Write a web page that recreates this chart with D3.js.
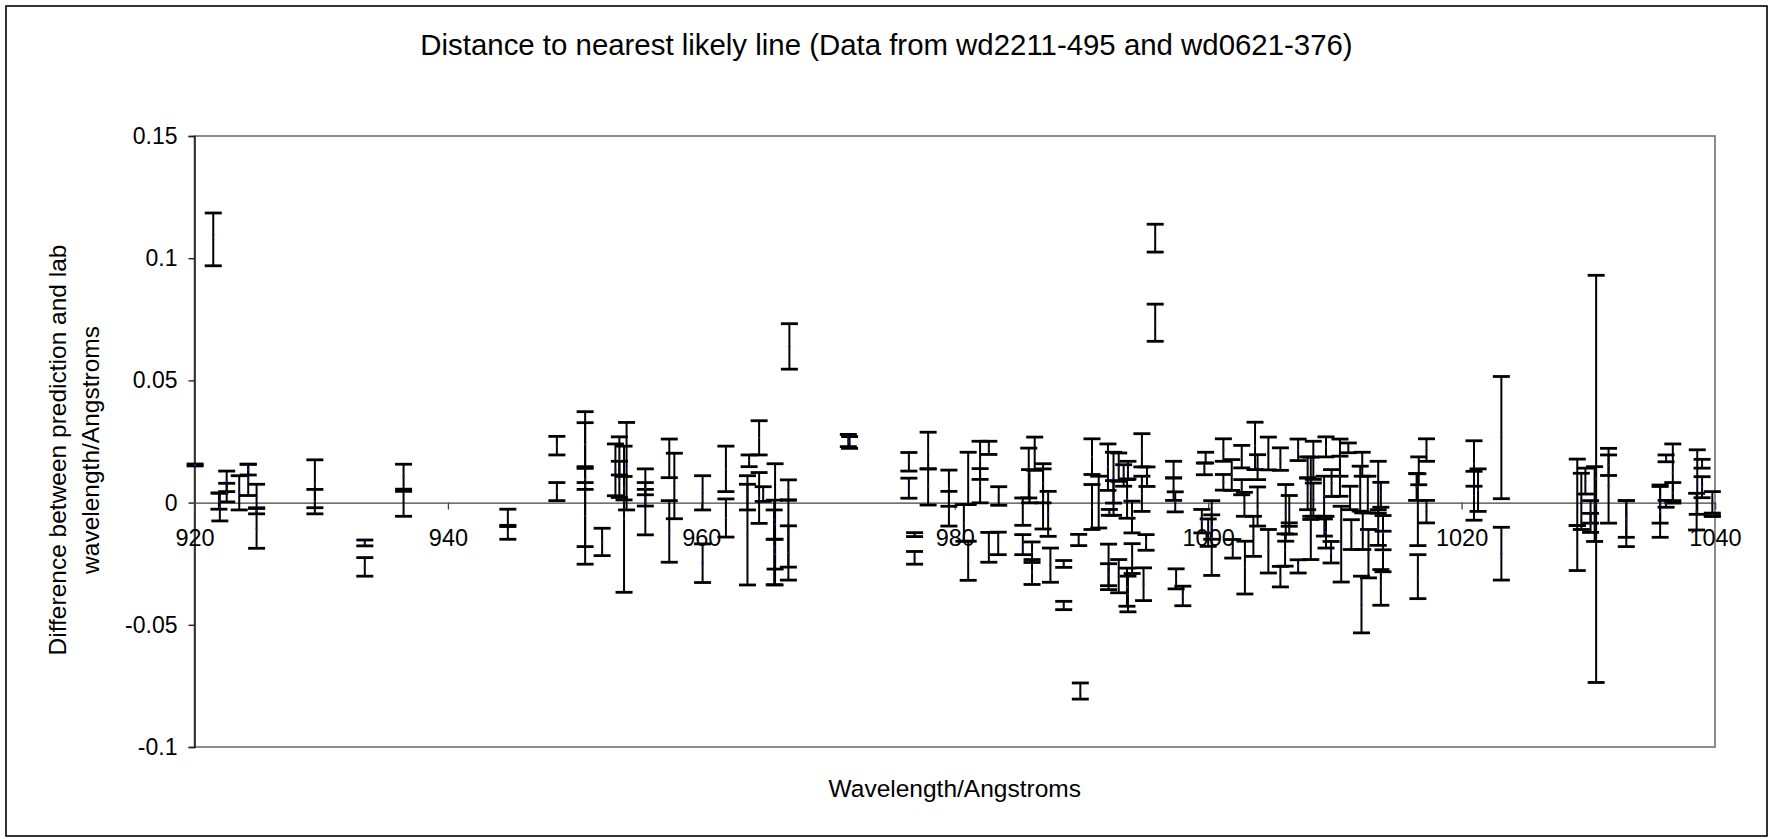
<!DOCTYPE html>
<html><head><meta charset="utf-8">
<script src="https://cdn.jsdelivr.net/npm/d3@7"></script>
<style>
body{margin:0;background:#fff}
svg{display:block}
text{font-family:"Liberation Sans",Arial,sans-serif;fill:#000}
</style>
</head><body>
<svg id="chart" width="1773" height="839"></svg>
<script>
// ---- data (wavelength in Angstroms, difference, symmetric error) ----
const wavelengths = [
 920.05, 921.48, 921.93, 922.0, 922.54, 922.54, 923.53, 924.24, 924.24, 924.9, 924.9, 924.9, 929.5, 929.5, 933.44, 933.44, 936.5, 936.5, 944.73, 944.73, 948.6, 948.6,
 950.83, 950.83, 950.83, 950.83, 952.17, 954.1, 953.9, 953.53, 953.22, 953.53, 953.9, 955.58, 955.58, 955.58, 957.47, 957.87, 957.47, 960.1, 960.1, 961.94, 961.94, 963.77, 963.64, 963.64, 964.56, 964.56, 964.88, 965.82, 965.75, 965.75, 965.82, 966.87, 966.87, 966.87, 966.95,
 971.6, 971.7, 976.38, 976.38, 976.83, 976.83, 977.9, 977.9, 979.54, 979.54,
 981.06, 981.06, 980.72, 982.69, 982.0, 982.0, 982.69, 983.43, 983.47, 986.31, 985.84, 985.9, 985.37, 985.37, 986.1, 986.1, 986.97, 987.37, 986.97, 987.55, 988.6, 988.6, 989.91, 989.78, 990.83, 990.83, 991.36, 992.14, 992.14, 992.09, 992.53, 992.53, 992.2, 993.67, 993.33, 992.94, 993.99, 994.0, 993.59, 993.67, 992.94, 993.6, 994.77, 995.17, 994.77, 995.1, 994.9, 995.82, 995.82, 997.27, 997.27, 997.4, 997.47, 998.0,
 999.8, 999.7, 1000.28, 999.5, 1000.28, 1000.0, 1001.2, 1001.86, 1001.2, 1001.94, 1002.65, 1002.65, 1002.86, 1002.9, 1003.7, 1003.9, 1003.9, 1003.57, 1004.75, 1004.75, 1005.7, 1005.7, 1006.12, 1006.4, 1006.4, 1006.07, 1007.1, 1007.1, 1007.85, 1008.3, 1008.1, 1008.3, 1008.1, 1007.85, 1009.3, 1009.74, 1009.15, 1009.17, 1009.3, 1009.7, 1010.4, 1010.4, 1010.5, 1011.06, 1011.2, 1011.3, 1012.16, 1012.0, 1012.6, 1012.2, 1012.65, 1012.1, 1013.42, 1013.63, 1013.42, 1013.8, 1013.63, 1013.8, 1017.23, 1016.62, 1016.45, 1016.55, 1017.23, 1016.55, 1020.98, 1021.3, 1020.98, 1023.14, 1023.14,
 1029.13, 1029.13, 1029.77, 1029.45, 1030.18, 1030.18, 1030.62, 1030.5, 1031.6, 1031.6, 1033.0, 1033.0, 1035.67, 1035.67, 1036.14, 1036.67, 1036.67, 1036.14, 1038.98, 1038.6, 1038.98, 1038.55, 1039.79, 1039.79
];
const differences = [
 0.0154, 0.1077, 0.0006, -0.0018, 0.0087, 0.0041, 0.0040, 0.0135, 0.0093, -0.0105, 0.0026, -0.0034, 0.0077, 0.0004, -0.0165, -0.0263, 0.0106, -0.0005, -0.0060, -0.0124, 0.0233, 0.0045,
 0.0237, -0.0056, 0.0096, 0.0068, -0.0161, 0.0149, -0.0068, 0.0191, 0.0134, 0.0095, 0.0059, 0.0003, 0.0057, 0.0020, 0.0181, 0.0068, -0.0118, 0.0040, -0.0248, 0.0138, -0.0063, 0.0171, -0.0131, 0.0040, 0.0265, 0.0019, 0.0035, -0.0089, -0.0070, -0.0183, -0.0211, 0.0052, -0.0127, -0.0206, 0.0639,
 0.0254, 0.0246, 0.0167, 0.0059, -0.0131, -0.0226, 0.0213, 0.0064, 0.0059, -0.0025,
 0.0099, -0.0238, -0.0083, 0.0224, 0.0173, 0.0069, -0.0183, -0.0167, 0.0027, 0.0200, 0.0121, 0.0067, -0.0037, -0.0172, -0.0284, -0.0203, 0.0079, -0.0046, 0.0015, -0.0256, -0.0251, -0.0421, -0.0771, -0.0153, 0.0188, -0.0018, 0.0002, -0.0263, -0.0295, 0.0145, 0.0102, 0.0019, -0.0040, 0.0133, 0.0111, 0.0145, -0.0059, -0.0229, -0.0346, -0.0374, -0.0301, 0.0015, 0.0214, 0.0106, 0.0036, -0.0163, -0.0334, 0.1082, 0.0736, 0.0135, 0.0055, 0.0003, -0.0312, -0.0382,
 0.0184, 0.0138, -0.0145, -0.0076, -0.0100, -0.0123, 0.0215, 0.0113, 0.0083, -0.0189, 0.0188, 0.0063, -0.0007, -0.0266, 0.0232, 0.0145, -0.0016, -0.0138, 0.0201, -0.0199, 0.0178, -0.0303, -0.0042, -0.0034, -0.0106, -0.0194, 0.0216, -0.0261, 0.0144, 0.0173, 0.0065, 0.0012, -0.0151, 0.0036, 0.0228, 0.0080, 0.0026, -0.0102, -0.0121, -0.0203, 0.0184, 0.0108, -0.0170, 0.0224, 0.0019, -0.0131, 0.0157, 0.0057, 0.0033, -0.0117, -0.0209, -0.0417, 0.0063, 0.0032, -0.0102, -0.0123, -0.0347, -0.0200, 0.0215, 0.0130, 0.0064, -0.0029, -0.0037, -0.0303, 0.0160, 0.0051, 0.0028, 0.0266, -0.0209,
 -0.0186, 0.0042, 0.0088, 0.0005, -0.0038, -0.0083, 0.0097, -0.0006, 0.0153, 0.0069, -0.0086, -0.0067, -0.0006, -0.0038, 0.0181, 0.0124, 0.0040, -0.0005, 0.0159, 0.0084, 0.0063, -0.0037, -0.0004, -0.0050
];
const errors = [
 0.0004, 0.0108, 0.0033, 0.0057, 0.0042, 0.0038, 0.0070, 0.0022, 0.0064, 0.0082, 0.0049, 0.0012, 0.0098, 0.0050, 0.0012, 0.0038, 0.0051, 0.0051, 0.0033, 0.0026, 0.0038, 0.0037,
 0.0090, 0.0196, 0.0276, 0.0014, 0.0056, 0.0179, 0.0299, 0.0078, 0.0106, 0.0074, 0.0048, 0.0135, 0.0025, 0.0034, 0.0079, 0.0134, 0.0126, 0.0070, 0.0079, 0.0093, 0.0078, 0.0024, 0.0206, 0.0070, 0.0070, 0.0104, 0.0030, 0.0248, 0.0080, 0.0153, 0.0061, 0.0041, 0.0137, 0.0111, 0.0093,
 0.0025, 0.0024, 0.0038, 0.0041, 0.0008, 0.0026, 0.0075, 0.0074, 0.0074, 0.0071,
 0.0107, 0.0080, 0.0075, 0.0027, 0.0078, 0.0070, 0.0061, 0.0046, 0.0038, 0.0068, 0.0102, 0.0068, 0.0056, 0.0041, 0.0051, 0.0042, 0.0080, 0.0092, 0.0123, 0.0070, 0.0014, 0.0017, 0.0033, 0.0023, 0.0073, 0.0092, 0.0106, 0.0093, 0.0045, 0.0095, 0.0104, 0.0071, 0.0012, 0.0036, 0.0044, 0.0058, 0.0065, 0.0061, 0.0078, 0.0073, 0.0068, 0.0079, 0.0068, 0.0040, 0.0072, 0.0032, 0.0067, 0.0057, 0.0076, 0.0034, 0.0046, 0.0041, 0.0041, 0.0040,
 0.0022, 0.0024, 0.0153, 0.0048, 0.0050, 0.0056, 0.0046, 0.0063, 0.0032, 0.0038, 0.0046, 0.0031, 0.0049, 0.0108, 0.0097, 0.0051, 0.0080, 0.0082, 0.0067, 0.0089, 0.0046, 0.0042, 0.0116, 0.0063, 0.0023, 0.0066, 0.0044, 0.0027, 0.0043, 0.0078, 0.0121, 0.0068, 0.0082, 0.0065, 0.0041, 0.0055, 0.0082, 0.0035, 0.0065, 0.0044, 0.0076, 0.0082, 0.0155, 0.0020, 0.0048, 0.0061, 0.0049, 0.0092, 0.0075, 0.0075, 0.0099, 0.0116, 0.0106, 0.0051, 0.0073, 0.0070, 0.0073, 0.0083, 0.0046, 0.0057, 0.0055, 0.0147, 0.0046, 0.0090, 0.0093, 0.0087, 0.0100, 0.0250, 0.0108,
 0.0092, 0.0136, 0.0053, 0.0115, 0.0046, 0.0039, 0.0833, 0.0153, 0.0042, 0.0153, 0.0094, 0.0075, 0.0078, 0.0104, 0.0014, 0.0116, 0.0042, 0.0014, 0.0018, 0.0132, 0.0043, 0.0075, 0.0049, 0.0007
];
const xTicks = [920, 940, 960, 980, 1000, 1020, 1040];
const yTicks = [-0.1, -0.05, 0, 0.05, 0.1, 0.15];
const yTickLabels = ["-0.1", "-0.05", "0", "0.05", "0.1", "0.15"];
const titleText = "Distance to nearest likely line (Data from wd2211-495 and wd0621-376)";
const xTitle = "Wavelength/Angstroms";
const yTitleLines = ["Difference between prediction and lab", "wavelength/Angstroms"];

// ---- layout ----
const svg = d3.select("#chart");
const L = 194.5, R = 1715, T = 136, B = 747;
const x = d3.scaleLinear().domain([920, 1040]).range([L, R]);
const y = d3.scaleLinear().domain([-0.1, 0.15]).range([B, T]);

// outer frame
svg.append("rect").attr("x", 6).attr("y", 6).attr("width", 1761).attr("height", 830)
  .attr("fill", "#fff").attr("stroke", "#000").attr("stroke-width", 1.6);

// plot area border
svg.append("rect").attr("x", L).attr("y", T).attr("width", R - L).attr("height", B - T)
  .attr("fill", "none").attr("stroke", "#808080").attr("stroke-width", 1.8);

// y axis
const yAxis = d3.axisLeft(y).tickValues(yTicks).tickSize(6).tickPadding(11)
  .tickFormat((d, i) => yTickLabels[i]);
const gy = svg.append("g").attr("transform", `translate(${L},0)`).call(yAxis);
gy.select(".domain").attr("stroke", "#222").attr("stroke-width", 1.6);
gy.selectAll(".tick line").attr("stroke", "#222").attr("stroke-width", 1.4);
gy.selectAll(".tick text").attr("font-size", 23).attr("font-family", '"Liberation Sans",Arial,sans-serif')
  .attr("fill", "#000").attr("dy", "0.33em");

// x axis crossing at y = 0
const xAxis = d3.axisBottom(x).tickValues(xTicks).tickSize(7).tickPadding(20)
  .tickFormat(d3.format("d"));
const gx = svg.append("g").attr("transform", `translate(0,${y(0)})`).call(xAxis);
gx.select(".domain").attr("stroke", "#444").attr("stroke-width", 1.3);
gx.selectAll(".tick line").attr("stroke", "#444").attr("stroke-width", 1.3);
gx.selectAll(".tick text").attr("font-size", 23.5).attr("font-family", '"Liberation Sans",Arial,sans-serif')
  .attr("fill", "#000");

// error bars
const data = wavelengths.map((w, i) => ({w, v: differences[i], e: errors[i]}));
const bars = svg.append("g");
const capHalf = 8.5;
bars.selectAll("line.stem").data(data).join("line").attr("class", "stem")
  .attr("x1", d => x(d.w)).attr("x2", d => x(d.w))
  .attr("y1", d => y(d.v + d.e)).attr("y2", d => y(d.v - d.e))
  .attr("stroke", "#000").attr("stroke-width", 2);
bars.selectAll("line.capTop").data(data).join("line").attr("class", "capTop")
  .attr("x1", d => x(d.w) - capHalf).attr("x2", d => x(d.w) + capHalf)
  .attr("y1", d => y(d.v + d.e)).attr("y2", d => y(d.v + d.e))
  .attr("stroke", "#000").attr("stroke-width", 2.8);
bars.selectAll("line.capBot").data(data).join("line").attr("class", "capBot")
  .attr("x1", d => x(d.w) - capHalf).attr("x2", d => x(d.w) + capHalf)
  .attr("y1", d => y(d.v - d.e)).attr("y2", d => y(d.v - d.e))
  .attr("stroke", "#000").attr("stroke-width", 2.8);
bars.selectAll("circle").data(data).join("circle")
  .attr("cx", d => x(d.w)).attr("cy", d => y(d.v)).attr("r", 1.1)
  .attr("fill", "#1a1aa0");

// titles
svg.append("text").attr("x", 886.5).attr("y", 55).attr("text-anchor", "middle")
  .attr("font-size", 29.4).text(titleText);
svg.append("text").attr("x", (L + R) / 2).attr("y", 797).attr("text-anchor", "middle")
  .attr("font-size", 24.5).text(xTitle);
const yt = svg.append("g");
[66, 99].forEach((bx, i) => {
  yt.append("text").attr("transform", `translate(${bx},450) rotate(-90)`)
    .attr("text-anchor", "middle").attr("font-size", 24.5).text(yTitleLines[i]);
});
</script>
</body></html>
